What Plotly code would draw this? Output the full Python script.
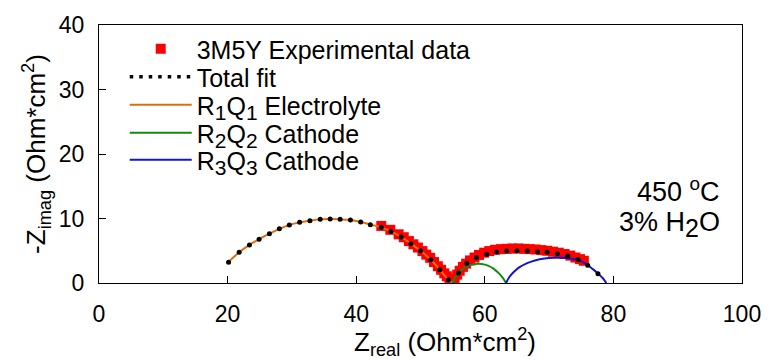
import plotly.graph_objects as go

# Experimental data (3M5Y, 450 C, 3% H2O)
exp_x = [43.9, 45.3, 46.6, 47.4, 48.2, 48.9, 49.6, 50.3, 50.9, 51.5, 52.1, 52.7, 53.2, 53.7,
         54.1, 54.5, 54.8, 55.0,
         55.3, 55.7, 56.1, 56.6, 57.1, 57.7, 58.4, 59.1, 59.9, 60.7, 61.6, 62.5, 63.4, 64.3,
         65.2, 66.1, 67.0, 67.9, 68.8, 69.7, 70.6, 71.5, 72.4, 73.3, 74.1, 74.8, 75.4]
exp_y = [8.85, 8.25, 7.55, 7.1, 6.5, 6.0, 5.5, 4.95, 4.4, 3.9, 3.25, 2.6, 2.05, 1.5,
         1.05, 0.6, 0.3, 0.1,
         0.6, 1.3, 1.9, 2.5, 3.0, 3.5, 3.95, 4.35, 4.7, 4.95, 5.15, 5.25, 5.3, 5.35,
         5.35, 5.3, 5.25, 5.2, 5.1, 5.0, 4.85, 4.7, 4.5, 4.25, 3.95, 3.7, 3.45]

# Total fit
fit_x = [20.15, 21.8, 23.4, 24.9, 26.5, 28.05, 29.6, 31.2, 32.8, 34.4, 35.95, 37.5, 39.1,
         40.7, 42.2, 43.9, 45.4, 47.0, 48.5, 50.0, 51.6, 53.0, 54.35,
         55.9, 57.2, 58.7, 60.3, 61.85, 63.4, 65.0, 66.6, 68.2, 69.7, 71.3, 72.9, 74.5, 76.0, 77.6]
fit_y = [3.2, 4.75, 5.9, 6.8, 7.65, 8.4, 9.0, 9.4, 9.66, 9.87, 9.92, 9.87, 9.75,
         9.45, 9.05, 8.63, 8.0, 7.13, 6.1, 5.0, 3.6, 2.06, 0.5,
         1.55, 3.05, 3.95, 4.44, 4.8, 4.96, 5.0, 4.96, 4.85, 4.75, 4.55, 4.2, 3.65, 2.75, 1.45]

# R1Q1 Electrolyte
r1_x = [20.0, 21.8, 23.4, 24.9, 26.5, 28.05, 29.6, 31.2, 32.8, 34.4, 35.95, 37.5, 39.1,
        40.7, 42.2, 43.9, 45.4, 47.0, 48.5, 50.0, 51.6, 53.0, 54.35, 55.0]
r1_y = [3.15, 4.75, 5.9, 6.8, 7.65, 8.4, 9.0, 9.4, 9.66, 9.87, 9.92, 9.87, 9.75,
        9.45, 9.05, 8.63, 8.0, 7.13, 6.1, 5.0, 3.6, 2.06, 0.5, 0.0]

# R2Q2 Cathode
r2_x = [55.0, 55.4, 55.9, 56.6, 57.5, 58.5, 59.5, 60.5, 61.4, 62.2, 62.8, 63.3]
r2_y = [0.0, 0.9, 1.6, 2.2, 2.7, 2.95, 2.95, 2.7, 2.2, 1.5, 0.8, 0.0]

# R3Q3 Cathode
r3_x = [63.3, 63.8, 64.5, 65.4, 66.5, 67.8, 69.3, 70.8, 72.3, 73.5, 74.5, 75.4, 76.2,
        77.0, 77.8, 78.4, 78.9]
r3_y = [0.0, 0.9, 1.7, 2.45, 3.05, 3.5, 3.8, 3.92, 3.9, 3.75, 3.55, 3.15, 2.6,
        2.0, 1.3, 0.7, 0.0]

x_ticks = [0, 20, 40, 60, 80, 100]
y_ticks = [0, 10, 20, 30, 40]

FONT = "Liberation Sans, Arial, sans-serif"


def big_sub(s, px):
    return '<sub><span style="font-size:%dpx">%s</span></sub>' % (px, s)


fig = go.Figure()
fig.add_trace(go.Scatter(x=exp_x, y=exp_y, mode="markers", name="3M5Y Experimental data",
                         marker=dict(symbol="square", size=10, color="#FF0000"),
                         legend="legend"))
fig.add_trace(go.Scatter(x=r1_x, y=r1_y, mode="lines",
                         name="R" + big_sub("1", 21) + "Q" + big_sub("1", 21) + " Electrolyte",
                         line=dict(color="#E36C0A", width=2, shape="spline"), legend="legend3"))
fig.add_trace(go.Scatter(x=r2_x, y=r2_y, mode="lines",
                         name="R" + big_sub("2", 21) + "Q" + big_sub("2", 21) + " Cathode",
                         line=dict(color="#118C11", width=2, shape="spline"), legend="legend4"))
fig.add_trace(go.Scatter(x=r3_x, y=r3_y, mode="lines",
                         name="R" + big_sub("3", 21) + "Q" + big_sub("3", 21) + " Cathode",
                         line=dict(color="#1414C8", width=2, shape="spline"), legend="legend5"))
fig.add_trace(go.Scatter(x=fit_x, y=fit_y, mode="markers", name="Total fit", showlegend=False,
                         marker=dict(symbol="circle", size=5, color="black")))
# legend entry for the total fit shown as a dotted line
fig.add_trace(go.Scatter(x=[None], y=[None], mode="lines", name="Total fit",
                         line=dict(color="black", width=3.5, dash="3.5px,6px"), legend="legend2"))

fig.add_annotation(text="450 <sup>o</sup>C", xref="paper", yref="paper",
                   x=(729 - 99) / 650, y=(283 - 190) / 258, xanchor="right", yanchor="middle",
                   align="right", showarrow=False, font=dict(family=FONT, size=27, color="black"))
fig.add_annotation(text="3% H" + big_sub("2", 25) + "O", xref="paper", yref="paper",
                   x=(729 - 99) / 650, y=(283 - 224) / 258, xanchor="right", yanchor="middle",
                   align="right", showarrow=False, font=dict(family=FONT, size=27, color="black"))
# x-axis title
fig.add_annotation(text="Z<sub>real</sub> (Ohm*cm<sup>2</sup>)", xref="paper", yref="paper",
                   x=(449 - 99) / 650, y=-(342 - 283) / 258, xanchor="center", yanchor="middle",
                   showarrow=False, font=dict(family=FONT, size=26, color="black"))

axis_common = dict(showline=True, linecolor="black", linewidth=1, mirror=True,
                   ticks="inside", ticklen=7, tickcolor="black", showgrid=False,
                   zeroline=False, tickfont=dict(family=FONT, size=23, color="black"))

legend_common = dict(x=(125 - 99) / 650, xanchor="left", yanchor="middle",
                     bgcolor="rgba(0,0,0,0)",
                     font=dict(family=FONT, size=25, color="black"), itemwidth=62)
legend_rows = [49, 77, 105, 133, 160]

fig.update_layout(
    width=773, height=361,
    margin=dict(l=99, r=24, t=25, b=78),
    paper_bgcolor="white", plot_bgcolor="white",
    font=dict(family=FONT, size=24, color="black"),
    xaxis=dict(range=[0, 100], tickvals=x_ticks, ticklabelstandoff=10, **axis_common),
    yaxis=dict(range=[0, 40], tickvals=y_ticks, ticklabelstandoff=9,
               title=dict(text="-Z<sub>imag</sub> (Ohm*cm<sup>2</sup>)", standoff=5,
                          font=dict(family=FONT, size=26)), **axis_common),
    legend=dict(y=(283 - legend_rows[0]) / 258, **legend_common),
    legend2=dict(y=(283 - legend_rows[1]) / 258, **legend_common),
    legend3=dict(y=(283 - legend_rows[2]) / 258, **legend_common),
    legend4=dict(y=(283 - legend_rows[3]) / 258, **legend_common),
    legend5=dict(y=(283 - legend_rows[4]) / 258, **legend_common),
    showlegend=True,
)

fig.write_html("out.html")
